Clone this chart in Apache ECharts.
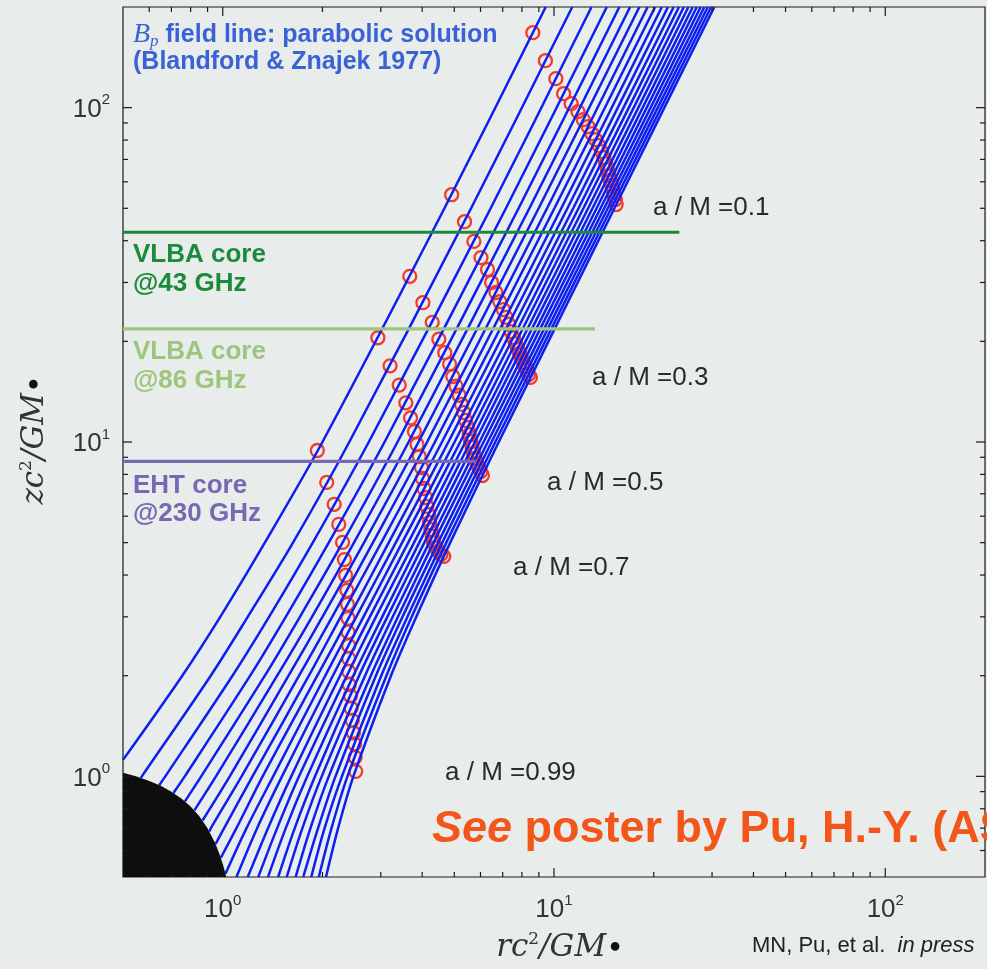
<!DOCTYPE html>
<html>
<head>
<meta charset="utf-8">
<title>Bp field line: parabolic solution</title>
<script src="https://cdn.jsdelivr.net/npm/echarts@6.0.0/dist/echarts.min.js"></script>
<style>
  html, body { margin: 0; padding: 0; background: #e8ecea; }
  #chart { width: 987px; height: 969px; }
</style>
</head>
<body>
<div id="chart"></div>
<script>
var zLevels = [200, 50, 10, 5, 3, 2, 1, 0.7, 0.5];

// rc^2/GM of each B_p field line at those heights (null = line has already ended)
var fieldR = [
  [9.44, 4.67, 2.00, 1.34, 0.983, 0.755, null, null, null],
  [11.35, 5.62, 2.41, 1.63, 1.19, 0.920, 0.570, null, null],
  [12.98, 6.44, 2.76, 1.87, 1.38, 1.07, 0.671, null, null],
  [14.43, 7.16, 3.08, 2.09, 1.55, 1.21, 0.768, null, null],
  [15.75, 7.82, 3.37, 2.30, 1.71, 1.34, 0.861, null, null],
  [16.97, 8.43, 3.64, 2.49, 1.86, 1.46, 0.954, null, null],
  [18.10, 8.99, 3.90, 2.67, 2.00, 1.58, 1.05, null, null],
  [19.17, 9.53, 4.14, 2.84, 2.14, 1.70, 1.14, 0.921, null],
  [20.19, 10.03, 4.37, 3.01, 2.27, 1.82, 1.23, 1.01, null],
  [21.16, 10.52, 4.59, 3.17, 2.41, 1.93, 1.32, 1.10, null],
  [22.08, 10.98, 4.80, 3.33, 2.53, 2.04, 1.42, 1.18, null],
  [22.97, 11.43, 5.01, 3.48, 2.66, 2.15, 1.51, 1.27, 1.10],
  [23.83, 11.86, 5.21, 3.63, 2.78, 2.26, 1.61, 1.37, 1.19],
  [24.65, 12.27, 5.40, 3.78, 2.90, 2.37, 1.70, 1.46, 1.28],
  [25.45, 12.68, 5.59, 3.92, 3.03, 2.48, 1.80, 1.55, 1.37],
  [26.23, 13.07, 5.77, 4.06, 3.14, 2.58, 1.90, 1.65, 1.47],
  [26.98, 13.45, 5.96, 4.20, 3.26, 2.69, 1.99, 1.74, 1.56],
  [27.71, 13.82, 6.13, 4.33, 3.38, 2.80, 2.09, 1.84, 1.66],
  [28.43, 14.18, 6.31, 4.47, 3.49, 2.90, 2.19, 1.94, 1.75],
  [29.12, 14.53, 6.48, 4.60, 3.61, 3.01, 2.29, 2.03, 1.85],
  [29.80, 14.88, 6.65, 4.73, 3.72, 3.12, 2.38, 2.13, 1.95],
  [30.47, 15.22, 6.81, 4.86, 3.84, 3.22, 2.48, 2.23, 2.05]
];

// last point of lines that stop on the left edge or on the horizon [r, z]
var fieldEnd = [
  [0.5, 1.12], [0.566, 0.990], [0.643, 0.941], [0.710, 0.892], [0.769, 0.842],
  [0.821, 0.791], [0.869, 0.738], [0.912, 0.684], [0.952, 0.628], [0.987, 0.571],
  [1.019, 0.511], null, null, null, null, null, null, null, null, null, null, null
];

// red circles, one per field line, for each spin
var spinNames = ['a / M =0.1', 'a / M =0.3', 'a / M =0.5', 'a / M =0.7', 'a / M =0.99'];
var circlesA01 = [[8.63,167.6],[9.42,138.2],[10.13,122.1],[10.69,110.1],[11.27,102.8],[11.81,97.3],[12.25,92.1],[12.67,87.8],[13.02,83.6],[13.36,80.2],[13.66,77.0],[13.92,73.9],[14.14,70.9],[14.33,68.0],[14.50,65.3],[14.63,62.6],[14.80,60.5],[14.94,58.5],[15.07,56.5],[15.18,54.6],[15.32,53.1],[15.40,51.3]];
var circlesA03 = [[4.91,54.9],[5.37,45.6],[5.73,39.8],[6.02,35.6],[6.30,32.8],[6.48,30.0],[6.68,28.0],[6.86,26.3],[7.03,24.9],[7.17,23.6],[7.30,22.5],[7.42,21.4],[7.54,20.5],[7.65,19.7],[7.77,19.0],[7.88,18.4],[7.97,17.8],[8.09,17.3],[8.20,16.8],[8.29,16.4],[8.38,15.9],[8.49,15.6]];
var circlesA05 = [[3.67,31.3],[4.02,26.1],[4.29,22.8],[4.49,20.3],[4.68,18.5],[4.84,17.1],[4.95,15.7],[5.06,14.7],[5.17,13.8],[5.26,12.95],[5.34,12.25],[5.41,11.6],[5.49,11.05],[5.55,10.53],[5.60,10.03],[5.66,9.63],[5.72,9.24],[5.79,8.93],[5.86,8.63],[5.93,8.39],[6.01,8.16],[6.08,7.94]];
var circlesA07 = [[2.94,20.5],[3.20,16.9],[3.41,14.8],[3.57,13.1],[3.69,11.8],[3.79,10.75],[3.86,9.83],[3.92,9.05],[3.98,8.39],[4.01,7.78],[4.05,7.26],[4.10,6.82],[4.13,6.42],[4.18,6.07],[4.21,5.74],[4.25,5.47],[4.29,5.22],[4.33,5.01],[4.40,4.84],[4.47,4.71],[4.56,4.61],[4.65,4.55]];
var circlesA099 = [[1.93,9.43],[2.06,7.57],[2.17,6.51],[2.24,5.67],[2.30,5.01],[2.33,4.45],[2.35,3.99],[2.37,3.60],[2.38,3.27],[2.39,2.97],[2.39,2.70],[2.40,2.46],[2.40,2.25],[2.40,2.06],[2.41,1.88],[2.43,1.74],[2.44,1.60],[2.46,1.47],[2.48,1.35],[2.50,1.25],[2.51,1.14],[2.52,1.035]];
var spinCircles = [circlesA01, circlesA03, circlesA05, circlesA07, circlesA099];

// VLBA / EHT core heights and where the marker lines stop
var coreNames = [['VLBA core', '@43 GHz'], ['VLBA core', '@86 GHz'], ['EHT core', '@230 GHz']];
var coreZ = [42.4, 21.8, 8.75];
var coreREnd = [23.9, 13.3, 5.8];

// black hole outline (horizon)
var holeR = [0.5, 0.55, 0.6, 0.65, 0.7, 0.75, 0.8, 0.85, 0.9, 0.95, 0.98, 1.0, 1.01, 1.02, 1.025];
var holeZ = [1.025, 0.999, 0.969, 0.937, 0.900, 0.859, 0.812, 0.760, 0.700, 0.630, 0.582, 0.547, 0.529, 0.509, 0.5];

// axis ticks
var majorTicks = [1, 10, 100];
var minorTicks = [0.6, 0.7, 0.8, 0.9, 2, 3, 4, 5, 6, 7, 8, 9, 20, 30, 40, 50, 60, 70, 80, 90];

var AX_MIN = 0.5, AX_MAX = 200;
var SANS = '"Liberation Sans", Helvetica, Arial, sans-serif';
var SERIF = '"Liberation Serif", "Times New Roman", serif';
var MATH = '"DejaVu Serif", "Liberation Serif", serif';
var BLUE = '#0d1ff0';
var RED = '#f03c2c';
var coreColors = ['#1c8a3c', '#9cc67e', '#7768b4'];

var chart = echarts.init(document.getElementById('chart'));

function fieldLine(k) {
  var pts = [];
  for (var i = 0; i < zLevels.length; i++) {
    if (fieldR[k][i] != null) pts.push([fieldR[k][i], zLevels[i]]);
  }
  if (fieldEnd[k]) pts.push(fieldEnd[k]);
  return pts;
}

function tickSeries(values, isX, len) {
  return {
    type: 'custom',
    silent: true,
    z: 10,
    clip: false,
    data: values.map(function (v) { return isX ? [v, 1] : [1, v]; }),
    renderItem: function (params, api) {
      var cs = params.coordSys;
      var st = { stroke: '#1a1a1a', lineWidth: 1.2 };
      if (isX) {
        var x = api.coord([api.value(0), 1])[0];
        return { type: 'group', children: [
          { type: 'line', shape: { x1: x, y1: cs.y + cs.height, x2: x, y2: cs.y + cs.height - len }, style: st },
          { type: 'line', shape: { x1: x, y1: cs.y, x2: x, y2: cs.y + len }, style: st }
        ] };
      }
      var y = api.coord([1, api.value(1)])[1];
      return { type: 'group', children: [
        { type: 'line', shape: { x1: cs.x, y1: y, x2: cs.x + len, y2: y }, style: st },
        { type: 'line', shape: { x1: cs.x + cs.width, y1: y, x2: cs.x + cs.width - len, y2: y }, style: st }
      ] };
    }
  };
}

function powLabel(v) {
  var e = Math.round(Math.log(v) / Math.LN10);
  if (Math.abs(v - Math.pow(10, e)) > 1e-6 * v) return '';
  return '{b|10}{s|' + e + '}';
}

var labelRich = {
  b: { fontFamily: SANS, fontSize: 26, color: '#333', lineHeight: 30, verticalAlign: 'bottom' },
  s: { fontFamily: SANS, fontSize: 15, color: '#333', lineHeight: 10, verticalAlign: 'top' }
};

var series = [];

spinCircles.forEach(function (c, i) {
  series.push({
    name: spinNames[i], type: 'scatter', data: c, symbol: 'circle', symbolSize: 13,
    itemStyle: { color: 'rgba(0,0,0,0)', borderColor: RED, borderWidth: 2.3, opacity: 1 },
    z: 2, silent: true
  });
});

for (var k = 0; k < fieldR.length; k++) {
  series.push({
    type: 'line', data: fieldLine(k), showSymbol: false, smooth: 0.3,
    lineStyle: { color: BLUE, width: 2.5 }, z: 3, silent: true
  });
}

coreZ.forEach(function (z, i) {
  series.push({
    type: 'line', data: [[AX_MIN, z], [coreREnd[i], z]], showSymbol: false,
    lineStyle: { color: coreColors[i], width: 3.2 }, z: 4, silent: true
  });
});

series.push({
  type: 'custom', silent: true, z: 6, data: [[AX_MIN, AX_MIN]],
  renderItem: function (params, api) {
    var pts = holeR.map(function (r, i) { return api.coord([r, holeZ[i]]); });
    pts.push(api.coord([AX_MIN, AX_MIN]));
    return { type: 'polygon', shape: { points: pts }, style: { fill: '#0e0e0e' } };
  }
});

series.push(tickSeries(majorTicks, true, 9));
series.push(tickSeries(minorTicks, true, 5));
series.push(tickSeries(majorTicks, false, 9));
series.push(tickSeries(minorTicks, false, 5));

var graphics = [
  { type: 'text', x: 133, y: 35, z: 20, style: {
      text: '{b|B}{p|p}{t| field line: parabolic solution}', verticalAlign: 'middle',
      rich: {
        b: { fontFamily: SERIF, fontStyle: 'italic', fontSize: 28, fill: '#3a62d6', lineHeight: 30 },
        p: { fontFamily: SERIF, fontStyle: 'italic', fontSize: 17, fill: '#3a62d6', lineHeight: 16, verticalAlign: 'bottom' },
        t: { fontFamily: SANS, fontWeight: 'bold', fontSize: 25, fill: '#3a62d6', lineHeight: 30 }
      } } },
  { type: 'text', x: 133, y: 62, z: 20, style: {
      text: '(Blandford & Znajek 1977)', font: 'bold 25px ' + SANS, fill: '#3a62d6', verticalAlign: 'middle' } },
  { type: 'text', x: 432, y: 830, z: 20, style: {
      text: '{i|See}{n| poster by Pu, H.-Y. (ASIAA)}', verticalAlign: 'middle',
      rich: {
        i: { fontFamily: SANS, fontWeight: 'bold', fontStyle: 'italic', fontSize: 45, fill: '#f3561a' },
        n: { fontFamily: SANS, fontWeight: 'bold', fontSize: 45, fill: '#f3561a' }
      } } },
  { type: 'text', x: 752, y: 946, z: 20, style: {
      text: '{n|MN, Pu, et al.  }{i|in press}', verticalAlign: 'middle',
      rich: {
        n: { fontFamily: SANS, fontSize: 22, fill: '#222' },
        i: { fontFamily: SANS, fontStyle: 'italic', fontSize: 22, fill: '#222' }
      } } }
];

var axisNameRich = {
  i: { fontFamily: MATH, fontStyle: 'italic', fontSize: 31, fill: '#333', lineHeight: 34 },
  sp: { fontFamily: MATH, fontSize: 17, fill: '#333', lineHeight: 14, verticalAlign: 'top' },
  sb: { fontFamily: MATH, fontSize: 30, fill: '#111', lineHeight: 20, verticalAlign: 'bottom' }
};
graphics.push({ type: 'text', x: 560, y: 948, z: 20, style: {
  text: '{i|rc}{sp|2}{i|/GM}{sb|\u2022}', align: 'center', verticalAlign: 'middle', rich: axisNameRich } });
graphics.push({ type: 'text', x: 35, y: 440, rotation: Math.PI / 2, z: 20, style: {
  text: '{i|zc}{sp|2}{i|/GM}{sb|\u2022}', align: 'center', verticalAlign: 'middle', rich: axisNameRich } });

var spinLabelAt = [[653, 208], [592, 378], [547, 483], [513, 568], [445, 773]];
spinNames.forEach(function (name, i) {
  graphics.push({ type: 'text', x: spinLabelAt[i][0], y: spinLabelAt[i][1], z: 20, style: {
    text: name, font: '26px ' + SANS, fill: '#2a2a2a', verticalAlign: 'middle' } });
});

var coreLabelAt = [[255, 284], [352, 381], [486, 514]];
coreNames.forEach(function (lines, i) {
  lines.forEach(function (t, j) {
    graphics.push({ type: 'text', x: 133, y: coreLabelAt[i][j], z: 20, style: {
      text: t, font: 'bold 26px ' + SANS, fill: coreColors[i], verticalAlign: 'middle' } });
  });
});

var option = {
  backgroundColor: '#e8ecea',
  animation: false,
  grid: {
    left: 123, top: 7, width: 862, height: 870,
    show: true, borderColor: '#1a1a1a', borderWidth: 1.2, backgroundColor: 'transparent',
    containLabel: false, outerBoundsMode: 'none'
  },
  xAxis: {
    type: 'log', logBase: 10, min: AX_MIN, max: AX_MAX,
    axisLine: { show: false }, axisTick: { show: false }, splitLine: { show: false },
    axisLabel: { margin: 16, formatter: powLabel, rich: labelRich, showMinLabel: true, showMaxLabel: true }
  },
  yAxis: {
    type: 'log', logBase: 10, min: AX_MIN, max: AX_MAX,
    axisLine: { show: false }, axisTick: { show: false }, splitLine: { show: false },
    axisLabel: { margin: 13, formatter: powLabel, rich: labelRich }
  },
  graphic: graphics,
  series: series
};

chart.setOption(option);
</script>
</body>
</html>
